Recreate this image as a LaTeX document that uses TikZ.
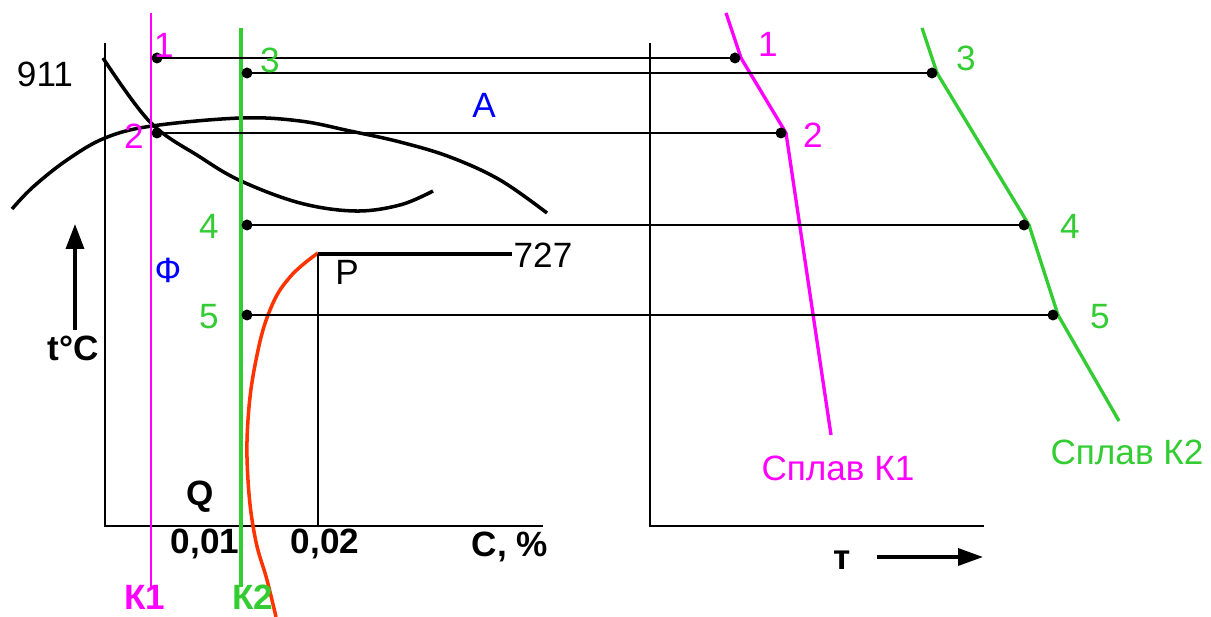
\documentclass[tikz,border=0pt]{standalone}
\usepackage{fontspec}
\setmainfont{Liberation Sans}
\usetikzlibrary{arrows.meta}
\definecolor{mag}{RGB}{255,0,255}
\definecolor{grn}{RGB}{51,204,51}
\definecolor{redo}{RGB}{255,51,0}
\definecolor{blu}{RGB}{0,0,255}
\tikzset{
  lbl/.style={inner sep=0pt,font=\fontsize{20}{24}\selectfont},
  blbl/.style={inner sep=0pt,font=\fontsize{20}{24}\selectfont\bfseries},
  dot/.style={circle,fill=black,inner sep=0pt,minimum size=0.22cm},
  axis/.style={line width=1.2pt,black},
  hline/.style={line width=1.2pt,black},
  curve/.style={line width=2pt,black},
}
\begin{document}
\begin{tikzpicture}[x=0.02cm,y=-0.02cm]
\useasboundingbox (0,0) rectangle (1211,617);
% axes left
\coordinate (LT) at (105,43);
\coordinate (LO) at (105,526);
\coordinate (LR) at (543,526);
\draw[axis] (LT) -- (LO) -- (LR);
% axes right
\coordinate (RT) at (650,43);
\coordinate (RO) at (650,526);
\coordinate (RR) at (984,526);
\draw[axis] (RT) -- (RO) -- (RR);
% curves
\draw[curve] plot[smooth,tension=0.6] coordinates {(103,58) (150,122) (200,157) (241,181) (300,203) (355,211) (400,205) (433,191)};
\draw[curve] plot[smooth,tension=0.6] coordinates {(12,209) (33,187) (67,160) (105,138) (152,126) (241,118) (300,121) (350,131) (400,142) (450,157) (500,180) (547,213)};
\draw[line width=2pt,redo] plot[smooth,tension=0.7] coordinates {(318,253) (290,277) (270,310) (256,360) (248,420) (248,480) (255,537) (267,580) (276,617)};
% P lines
\coordinate (P0) at (318,254);
\coordinate (P1) at (512,254);
\coordinate (P2) at (318,526);
\draw[line width=2.2pt] (P0) -- (P1);
\draw[axis] (P0) -- (P2);
% alloy verticals
\coordinate (K1t) at (151,13);
\coordinate (K1b) at (151,587);
\coordinate (K2t) at (241,28);
\coordinate (K2b) at (241,587);
\draw[line width=1.3pt,mag] (K1t) -- (K1b);
\draw[line width=2pt,grn] (K2t) -- (K2b);
% right polylines
\coordinate (m0) at (726,13);
\coordinate (m1) at (741,58);
\coordinate (m2) at (786,133);
\coordinate (m3) at (831,435);
\draw[line width=1.9pt,mag] (m0) -- (m1) -- (m2) -- (m3);
\coordinate (g0) at (922,28);
\coordinate (g1) at (937,73);
\coordinate (g2) at (1029,225);
\coordinate (g3) at (1058,315);
\coordinate (g4) at (1119,421);
\draw[line width=1.9pt,grn] (g0) -- (g1) -- (g2) -- (g3) -- (g4);
% dots
\node[dot] (d1L) at (157,58) {};
\node[dot] (d1R) at (735,58) {};
\node[dot] (d3L) at (247,73) {};
\node[dot] (d3R) at (932,73) {};
\node[dot] (d2L) at (157,133) {};
\node[dot] (d2R) at (781,133) {};
\node[dot] (d4L) at (247,225) {};
\node[dot] (d4R) at (1024,225) {};
\node[dot] (d5L) at (247,315) {};
\node[dot] (d5R) at (1053,315) {};
\draw[hline] (d1L.center) -- (d1R.center);
\draw[hline] (d3L.center) -- (d3R.center);
\draw[hline] (d2L.center) -- (d2R.center);
\draw[hline] (d4L.center) -- (d4R.center);
\draw[hline] (d5L.center) -- (d5R.center);
% arrows
\coordinate (tA0) at (75,330);
\coordinate (tA1) at (75,224);
\draw[line width=2pt,-{Triangle[length=0.5cm,width=0.36cm]}] (tA0) -- (tA1);
\coordinate (tau0) at (877,557);
\coordinate (tau1) at (983,557);
\draw[line width=2pt,-{Triangle[length=0.5cm,width=0.34cm]}] (tau0) -- (tau1);
% labels left
\node[lbl] (t911) at (45,74) {911};
\node[lbl,mag] (l1L) at (164,45) {1};
\node[lbl,mag] (l2L) at (134,136) {2};
\node[lbl,grn] (l3L) at (270,60) {3};
\node[lbl,grn] (l4L) at (209,226) {4};
\node[lbl,grn] (l5L) at (209,317) {5};
\node[lbl,blu] (tA) at (484,105) {A};
\node[lbl,blu] (tF) at (168,270) {Ф};
\node[lbl] (tP) at (347,272) {P};
\node[lbl] (t727) at (543,255) {727};
\node[blbl] (tQ) at (200,497) {Q};
\node[blbl] (t001) at (205,544) {0,01};
\node[blbl] (t002) at (325,544) {0,02};
\node[blbl] (tC) at (510,547) {С, \%};
\node[blbl,mag] (tK1) at (145,597) {К1};
\node[blbl,grn] (tK2) at (253,597) {К2};
\node[blbl] (ttC) at (73,348) {t°C};
% labels right
\node[lbl,mag] (l1R) at (768,44) {1};
\node[lbl,mag] (l2R) at (813,135) {2};
\node[lbl,grn] (l3R) at (966,58) {3};
\node[lbl,grn] (l4R) at (1070,226) {4};
\node[lbl,grn] (l5R) at (1100,317) {5};
\node[lbl,mag] (sK1) at (838,468) {Сплав К1};
\node[lbl,grn] (sK2) at (1127,452) {Сплав К2};
\node[blbl] (ttau) at (842,560) {т};
\end{tikzpicture}
\end{document}
